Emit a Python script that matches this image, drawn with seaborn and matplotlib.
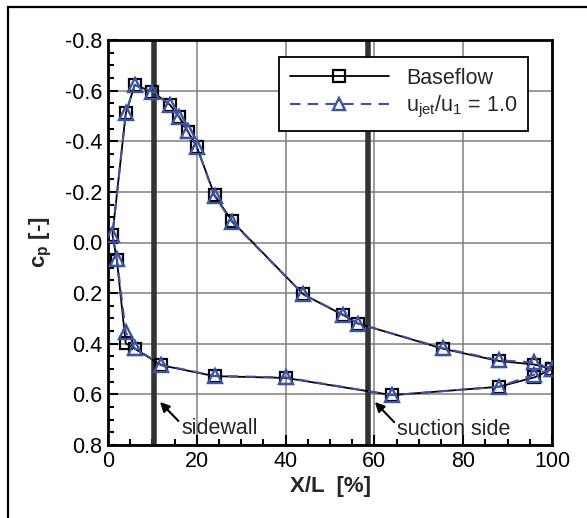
import seaborn as sns
import matplotlib.pyplot as plt
from matplotlib.patches import Rectangle
from matplotlib.ticker import MultipleLocator, FormatStrFormatter

# surface pressure coefficient, closed loop around the profile
x_base = [100, 96, 88, 64, 40, 24, 12, 6, 4, 2, 1, 4, 6, 10, 14, 16, 18, 20, 24, 28, 44, 53, 56.3, 75.5, 88, 96, 100]
cp_base = [0.50, 0.533, 0.57, 0.603, 0.535, 0.528, 0.485, 0.419, 0.399, 0.07, -0.03, -0.51, -0.622, -0.596,
           -0.543, -0.497, -0.438, -0.378, -0.187, -0.083, 0.205, 0.287, 0.32, 0.42, 0.468, 0.482, 0.50]
x_jet = [100, 96, 88, 64, 40, 24, 12, 6, 4, 2, 1, 4, 6, 10, 14, 16, 18, 20, 24, 28, 44, 53, 56.3, 75.5, 88, 96, 100]
cp_jet = [0.50, 0.522, 0.57, 0.603, 0.533, 0.527, 0.483, 0.417, 0.355, 0.065, -0.03, -0.51, -0.622, -0.596,
          -0.545, -0.497, -0.44, -0.378, -0.183, -0.08, 0.205, 0.285, 0.32, 0.418, 0.465, 0.474, 0.50]

wall_pos = [10.4, 58.6]
wall_labels = ["sidewall", "suction side"]

sns.set_style("white")
plt.rcParams['font.family'] = ['Liberation Sans', 'DejaVu Sans']
plt.rcParams['axes.unicode_minus'] = False
plt.rcParams['mathtext.fontset'] = 'custom'
plt.rcParams['mathtext.rm'] = 'Liberation Sans'
plt.rcParams['mathtext.bf'] = 'Liberation Sans:bold'

fs = 15.5

fig = plt.figure(figsize=(5.87, 5.18), dpi=100)
ax = fig.add_axes([108 / 587, 1 - 445 / 518, 444 / 587, 405 / 518])

# frame around the figure (only left and top visible)
fig.patches.append(Rectangle((8 / 587, -0.1), 1.2, 1 - 7 / 518 + 0.1, transform=fig.transFigure,
                             fill=False, edgecolor='black', linewidth=1.6))

for xw in wall_pos:
    ax.axvline(xw, color='#333333', linewidth=4, zorder=1)

blue = '#3d52a1'
sns.lineplot(x=x_base, y=cp_base, sort=False, estimator=None, ax=ax, color='black', linewidth=1.3,
             marker='s', markersize=8.5, markerfacecolor='none', markeredgecolor='black', markeredgewidth=1.6,
             label='Baseflow', zorder=3)
sns.lineplot(x=x_jet, y=cp_jet, sort=False, estimator=None, ax=ax, color=blue, linewidth=1.5,
             linestyle=(0, (5, 3.5)), marker='^', markersize=10.5, markerfacecolor='none',
             markeredgecolor=blue, markeredgewidth=1.7, label=r'u$_\mathrm{jet}$/u$_\mathrm{1}$ = 1.0',
             zorder=4)

ax.set_xlim(0, 100)
ax.set_ylim(0.8, -0.8)
ax.xaxis.set_major_locator(MultipleLocator(20))
ax.xaxis.set_minor_locator(MultipleLocator(5))
ax.yaxis.set_major_locator(MultipleLocator(0.2))
ax.yaxis.set_minor_locator(MultipleLocator(0.05))
ax.yaxis.set_major_formatter(FormatStrFormatter('%.1f'))
ax.grid(True, which='major', color='#808080', linewidth=1.1, zorder=0)
ax.set_axisbelow(True)
ax.tick_params(which='both', direction='in', bottom=True, left=True, top=False, right=False,
               labelsize=fs, colors='black', width=1.5, pad=4)
ax.tick_params(which='major', length=7)
ax.tick_params(which='minor', length=4)
for s in ax.spines.values():
    s.set_linewidth(2)
    s.set_color('black')

ax.set_xlabel('X/L  [%]', fontsize=16, fontweight='bold', labelpad=3)
ax.set_ylabel(r'c$_\mathbf{p}$ [-]', fontsize=16, fontweight='bold', labelpad=8)

# annotations pointing at walls
ax.annotate(wall_labels[0], xy=(11.7, 0.63), xytext=(16.6, 0.735), fontsize=fs, va='center', ha='left',
            arrowprops=dict(arrowstyle='-|>', color='black', lw=1.5, mutation_scale=14, shrinkA=0, shrinkB=0,
                            relpos=(0, 0.7)))
ax.annotate(wall_labels[1], xy=(60.1, 0.63), xytext=(65.2, 0.74), fontsize=fs, va='center', ha='left',
            arrowprops=dict(arrowstyle='-|>', color='black', lw=1.5, mutation_scale=14, shrinkA=0, shrinkB=0,
                            relpos=(0, 0.7)))

leg = ax.legend(loc='upper left', bbox_to_anchor=(0.385, 0.958), fontsize=fs, handlelength=4.6,
                handletextpad=0.8, borderpad=0.5, labelspacing=0.25, fancybox=False, framealpha=1,
                edgecolor='black', borderaxespad=0)
leg.get_frame().set_linewidth(1.3)
for h in leg.legend_handles:
    h.set_markersize(8)

fig.savefig('out.png', dpi=100)
